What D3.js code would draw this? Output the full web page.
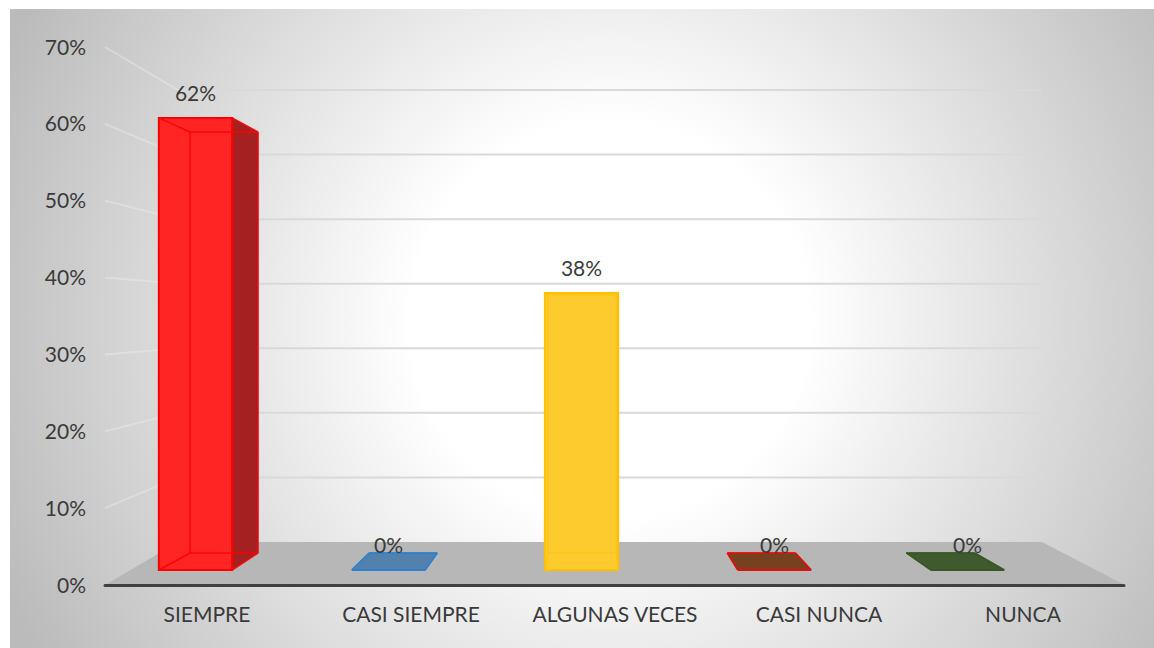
<!DOCTYPE html>
<html>
<head>
<meta charset="utf-8">
<script src="https://cdn.jsdelivr.net/npm/d3@7"></script>
<style>
	body { margin: 0; background: #fff; }
	text { font-family: Lato, "Open Sans", sans-serif; fill: #3a3a3a; }
</style>
</head>
<body>
<div class="canvas"></div>
<script>
const categories = ['SIEMPRE', 'CASI SIEMPRE', 'ALGUNAS VECES', 'CASI NUNCA', 'NUNCA'];
const values = [0.62, 0, 0.38, 0, 0];
const yTicks = [0, 0.1, 0.2, 0.3, 0.4, 0.5, 0.6, 0.7];
const barFill = ['#ff2525', '#5381ad', '#fdcb2d', '#77401f', '#3e5a2e'];
const barSide = ['#a52020', '#3c6590', '#d9a400', '#5a2e14', '#2d4421'];
const barStroke = ['#ff0000', '#2f7fd0', '#ffc000', '#e01010', '#385723'];

const width = 1154;
const height = 648;

const svg = d3.select('.canvas')
	.append('svg')
	.attr('width', width)
	.attr('height', height);

// background: radial gradient like the excel chart area
const defs = svg.append('defs');
const grad = defs.append('radialGradient')
	.attr('id', 'bg')
	.attr('gradientUnits', 'userSpaceOnUse')
	.attr('cx', 610).attr('cy', 320).attr('r', 660);
grad.append('stop').attr('offset', 0).attr('stop-color', '#ffffff');
grad.append('stop').attr('offset', 0.3).attr('stop-color', '#ffffff');
grad.append('stop').attr('offset', 1).attr('stop-color', '#bbbbbb');

svg.append('rect')
	.attr('x', 10).attr('y', 9)
	.attr('width', width - 10).attr('height', height - 9)
	.attr('fill', 'url(#bg)');

// 3d planes: front edge of the floor, back wall, and the two depths of the columns
const xFloorFront = d3.scaleBand().domain(categories).range([105, 1125]);
const xFloorBack = d3.scaleBand().domain(categories).range([178, 1042]);
const xBarFront = d3.scaleBand().domain(categories).range([99, 1064]);
const xBarBack = d3.scaleBand().domain(categories).range([134.5, 1030]);

const ySide = d3.scaleLinear().domain([0, 0.7]).range([585, 47]);
const yWall = d3.scaleLinear().domain([0, 0.7]).range([542, 90]);
const yBarFront = d3.scaleLinear().domain([0, 0.7]).range([570, 59.6]);
const yBarBack = d3.scaleLinear().domain([0, 0.7]).range([553, 77.7]);

const wallLeft = xFloorBack.range()[0];
const wallRight = xFloorBack.range()[1];
const sideLeft = xFloorFront.range()[0];

// gridlines on back wall and side wall
const grid = svg.append('g');
grid.selectAll('line.wall')
	.data(yTicks.filter(d => d > 0))
	.enter()
	.append('line')
	.attr('class', 'wall')
	.attr('x1', wallLeft).attr('x2', wallRight)
	.attr('y1', d => yWall(d)).attr('y2', d => yWall(d))
	.attr('stroke', '#d9d9d9')
	.attr('stroke-width', 2);

grid.selectAll('line.side')
	.data(yTicks.filter(d => d > 0))
	.enter()
	.append('line')
	.attr('class', 'side')
	.attr('x1', sideLeft).attr('x2', wallLeft)
	.attr('y1', d => ySide(d)).attr('y2', d => yWall(d))
	.attr('stroke', '#ececec')
	.attr('stroke-opacity', 0.45)
	.attr('stroke-width', 2);

// floor
svg.append('polygon')
	.attr('points', [
		[sideLeft, ySide(0)], [xFloorFront.range()[1], ySide(0)],
		[wallRight, yWall(0)], [wallLeft, yWall(0)]
	].join(' '))
	.attr('fill', '#b7b7b7');

// columns
const boxes = categories.map((c, i) => {
	const cf = xBarFront(c) + xBarFront.bandwidth() / 2;
	const hf = xBarFront.bandwidth() * 0.19;
	const cb = xBarBack(c) + xBarBack.bandwidth() / 2;
	const hb = xBarBack.bandwidth() * 0.19;
	const v = values[i];
	return {
		i, c, v, cf,
		xf0: cf - hf, xf1: cf + hf, yf0: yBarFront(0), yf1: yBarFront(v),
		xb0: cb - hb, xb1: cb + hb, yb0: yBarBack(0), yb1: yBarBack(v)
	};
});

const bars = svg.selectAll('g.bar')
	.data(boxes)
	.enter()
	.append('g')
	.attr('class', 'bar');

bars.each(function (d) {
	const g = d3.select(this);
	const pts = a => a.map(p => p.join(',')).join(' ');
	const front = [[d.xf0, d.yf1], [d.xf1, d.yf1], [d.xf1, d.yf0], [d.xf0, d.yf0]];
	const top = [[d.xf0, d.yf1], [d.xf1, d.yf1], [d.xb1, d.yb1], [d.xb0, d.yb1]];
	const right = [[d.xf1, d.yf1], [d.xb1, d.yb1], [d.xb1, d.yb0], [d.xf1, d.yf0]];
	const left = [[d.xf0, d.yf1], [d.xb0, d.yb1], [d.xb0, d.yb0], [d.xf0, d.yf0]];

	g.append('polygon').attr('points', pts(top)).attr('fill', barFill[d.i]);
	g.append('polygon').attr('points', pts(front)).attr('fill', barFill[d.i]);
	if (d.xb1 > d.xf1) g.append('polygon').attr('points', pts(right)).attr('fill', barSide[d.i]);
	if (d.xb0 < d.xf0) g.append('polygon').attr('points', pts(left)).attr('fill', barSide[d.i]);

	// edges, the back ones show through the glassy fill
	const inner = [
		[[d.xb0, d.yb1], [d.xb1, d.yb1]], [[d.xb0, d.yb0], [d.xb1, d.yb0]],
		[[d.xb0, d.yb1], [d.xb0, d.yb0]], [[d.xb1, d.yb1], [d.xb1, d.yb0]],
		[[d.xf0, d.yf1], [d.xb0, d.yb1]], [[d.xf1, d.yf1], [d.xb1, d.yb1]],
		[[d.xf0, d.yf0], [d.xb0, d.yb0]], [[d.xf1, d.yf0], [d.xb1, d.yb0]]
	];
	g.selectAll('line')
		.data(inner)
		.enter()
		.append('line')
		.attr('x1', e => e[0][0]).attr('y1', e => e[0][1])
		.attr('x2', e => e[1][0]).attr('y2', e => e[1][1])
		.attr('stroke', barStroke[d.i])
		.attr('stroke-width', 1.5)
		.attr('stroke-opacity', d.i === 2 ? 0.45 : 0.9);

	g.append('polygon')
		.attr('points', pts(front))
		.attr('fill', 'none')
		.attr('stroke', barStroke[d.i])
		.attr('stroke-width', 2);
});

// data labels
svg.selectAll('text.value')
	.data(boxes)
	.enter()
	.append('text')
	.attr('class', 'value')
	.attr('x', d => d.cf)
	.attr('y', d => yBarFront(d.v) - 17)
	.attr('text-anchor', 'middle')
	.attr('font-size', 21)
	.text(d => d3.format('.0%')(d.v));

// x axis line
svg.append('line')
	.attr('x1', sideLeft).attr('x2', xFloorFront.range()[1] - 1)
	.attr('y1', ySide(0) + 0.5).attr('y2', ySide(0) + 0.5)
	.attr('stroke', '#404040')
	.attr('stroke-width', 3)
	.attr('stroke-linecap', 'round');

// y tick labels
svg.selectAll('text.ytick')
	.data(yTicks)
	.enter()
	.append('text')
	.attr('class', 'ytick')
	.attr('x', 86)
	.attr('y', d => ySide(d))
	.attr('dy', '0.36em')
	.attr('text-anchor', 'end')
	.attr('font-size', 21)
	.text(d => d3.format('.0%')(d));

// category labels
svg.selectAll('text.xtick')
	.data(categories)
	.enter()
	.append('text')
	.attr('class', 'xtick')
	.attr('x', d => xFloorFront(d) + xFloorFront.bandwidth() / 2)
	.attr('y', 622)
	.attr('text-anchor', 'middle')
	.attr('font-size', 21)
	.text(d => d);
</script>
</body>
</html>
